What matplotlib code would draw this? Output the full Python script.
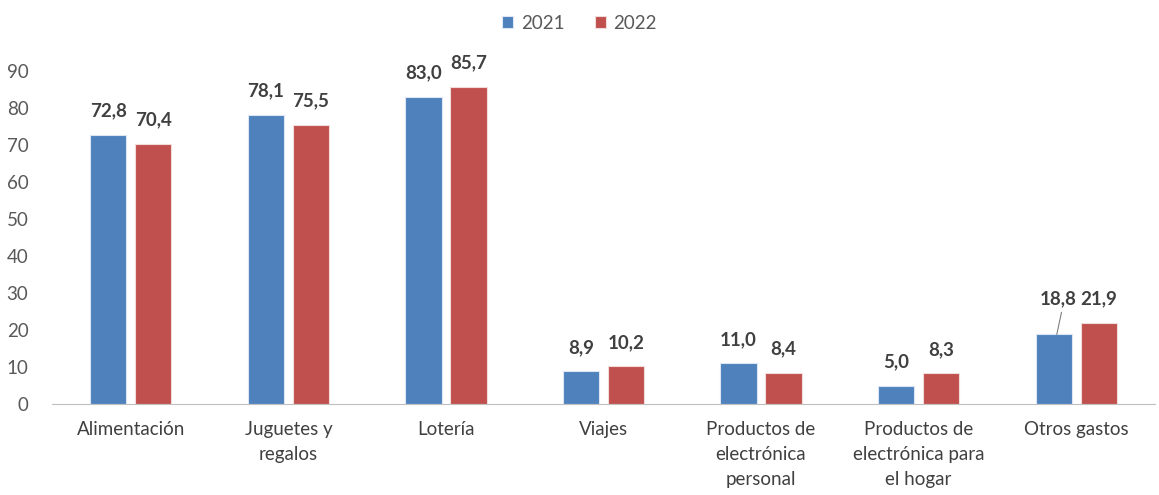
import matplotlib
matplotlib.use("Agg")
import matplotlib.pyplot as plt
import numpy as np

categories = ["Alimentación", "Juguetes y\nregalos", "Lotería", "Viajes",
              "Productos de\nelectrónica\npersonal", "Productos de\nelectrónica para\nel hogar",
              "Otros gastos"]
series_names = ["2021", "2022"]
values_2021 = [72.8, 78.1, 83.0, 8.9, 11.0, 5.0, 18.8]
values_2022 = [70.4, 75.5, 85.7, 10.2, 8.4, 8.3, 21.9]
yticks = [0, 10, 20, 30, 40, 50, 60, 70, 80, 90]

plt.rcParams['font.family'] = ['Lato', 'DejaVu Sans']
text_col = '#595959'
label_col = '#404040'
c1 = '#4F81BD'
c2 = '#C0504D'
fs = 13.5

fig = plt.figure(figsize=(11.59, 4.95), dpi=100)
ax = fig.add_axes([0.0449, 0.1838, 0.9516, 0.6728])

x = np.arange(len(categories))
w = 0.23
off = 0.143
b1 = ax.bar(x - off, values_2021, w, color=c1, edgecolor='#DCE6F2', linewidth=0.8, label=series_names[0])
b2 = ax.bar(x + off, values_2022, w, color=c2, edgecolor='#F2DCDB', linewidth=0.8, label=series_names[1])

ax.set_xlim(-0.5, len(categories) - 0.5)
ax.set_ylim(0, 90)
ax.set_yticks(yticks)
ax.set_yticklabels([str(v) for v in yticks], fontsize=fs, color=text_col)
ax.set_xticks(x)
ax.set_xticklabels(categories, fontsize=fs, color=label_col, linespacing=1.58, va='top')
ax.tick_params(axis='both', length=0)
ax.tick_params(axis='y', pad=17)
ax.tick_params(axis='x', pad=12)
for s in ['top', 'right', 'left']:
    ax.spines[s].set_visible(False)
ax.spines['bottom'].set_color('#BFBFBF')
ax.spines['bottom'].set_linewidth(0.8)

def fmt(v):
    return f"{v:.1f}".replace('.', ',')

def val_label(xp, v, dy=11):
    ax.annotate(fmt(v), xy=(xp, v), xytext=(0, dy), textcoords='offset points',
                ha='center', va='bottom', fontsize=fs, fontweight='bold', color=label_col)

last = len(categories) - 1
for i, (v1, v2) in enumerate(zip(values_2021, values_2022)):
    if i == last:
        # 2021 label raised to the level of the 2022 label, with a leader line
        ax.annotate(fmt(v1), xy=(x[i] - off + 0.03, v2), xytext=(0, 11), textcoords='offset points',
                    ha='center', va='bottom', fontsize=fs, fontweight='bold', color=label_col)
        ax.annotate('', xy=(x[i] - off + 0.02, v1), xytext=(x[i] - off + 0.05, v1 + 6),
                    arrowprops=dict(arrowstyle='-', color='#7F7F7F', lw=0.8, shrinkA=0, shrinkB=0))
        val_label(x[i] + off, v2)
    else:
        val_label(x[i] - off, v1)
        val_label(x[i] + off, v2)

leg = fig.legend(handles=[b1, b2], labels=series_names, loc='center', bbox_to_anchor=(0.5, 0.953),
                 ncol=2, frameon=False, fontsize=fs, handlelength=0.6, handleheight=0.6,
                 handletextpad=0.4, columnspacing=1.6)
for t in leg.get_texts():
    t.set_color(text_col)

fig.savefig('out.png', dpi=100)
